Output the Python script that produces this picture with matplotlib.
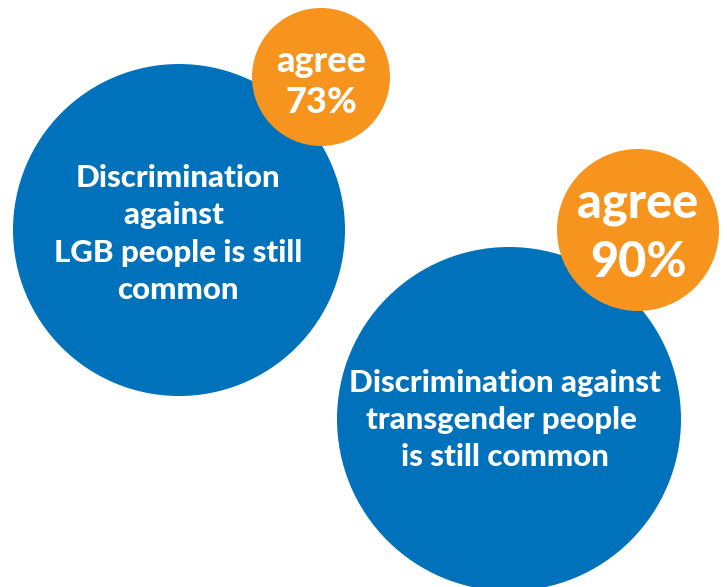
import matplotlib
matplotlib.use("Agg")
import matplotlib.pyplot as plt
from matplotlib.patches import Circle

# statements and share who agree
statements = [
    "Discrimination\nagainst \nLGB people is still\ncommon",
    "Discrimination against\ntransgender people \nis still common",
]
agree_pct = [73, 90]

BLUE = "#0072bc"
ORANGE = "#f7941d"
FONT = ["Lato", "DejaVu Sans"]

# layout in pixel units (x right, y down)
blue_xy = [(179, 230), (509, 419)]
blue_r = [166, 172]
orange_xy = [(321, 77), (638, 230)]
orange_r = [69, 81]
text_xy = [(178, 234), (505, 420)]
text_size = [22.5, 22.5]
badge_size = [26, 35]
badge_base = [(72, 113), (218, 277)]  # baselines of "agree" and "NN%"

fig = plt.figure(figsize=(7.27, 5.87), dpi=100)
ax = fig.add_axes([0, 0, 1, 1])
ax.set_xlim(0, 727)
ax.set_ylim(587, 0)
ax.set_aspect("equal")
ax.axis("off")

for k, (lab, pct) in enumerate(zip(statements, agree_pct)):
    ax.add_patch(Circle(blue_xy[k], blue_r[k], color=BLUE, lw=0, zorder=1))
    ax.text(*text_xy[k], lab, ha="center", va="center", color="white",
            fontsize=text_size[k], fontweight="black", family=FONT,
            linespacing=1.4, zorder=3)
    ox, oy = orange_xy[k]
    ax.add_patch(Circle((ox, oy), orange_r[k], color=ORANGE, lw=0, zorder=2))
    ax.text(ox, badge_base[k][0], "agree", ha="center", va="baseline",
            color="white", fontsize=badge_size[k], fontweight="black",
            family=FONT, zorder=3)
    ax.text(ox, badge_base[k][1], f"{pct}%", ha="center", va="baseline",
            color="white", fontsize=badge_size[k], fontweight="black",
            family=FONT, zorder=3)

fig.savefig("out.png", dpi=100, facecolor="white")
